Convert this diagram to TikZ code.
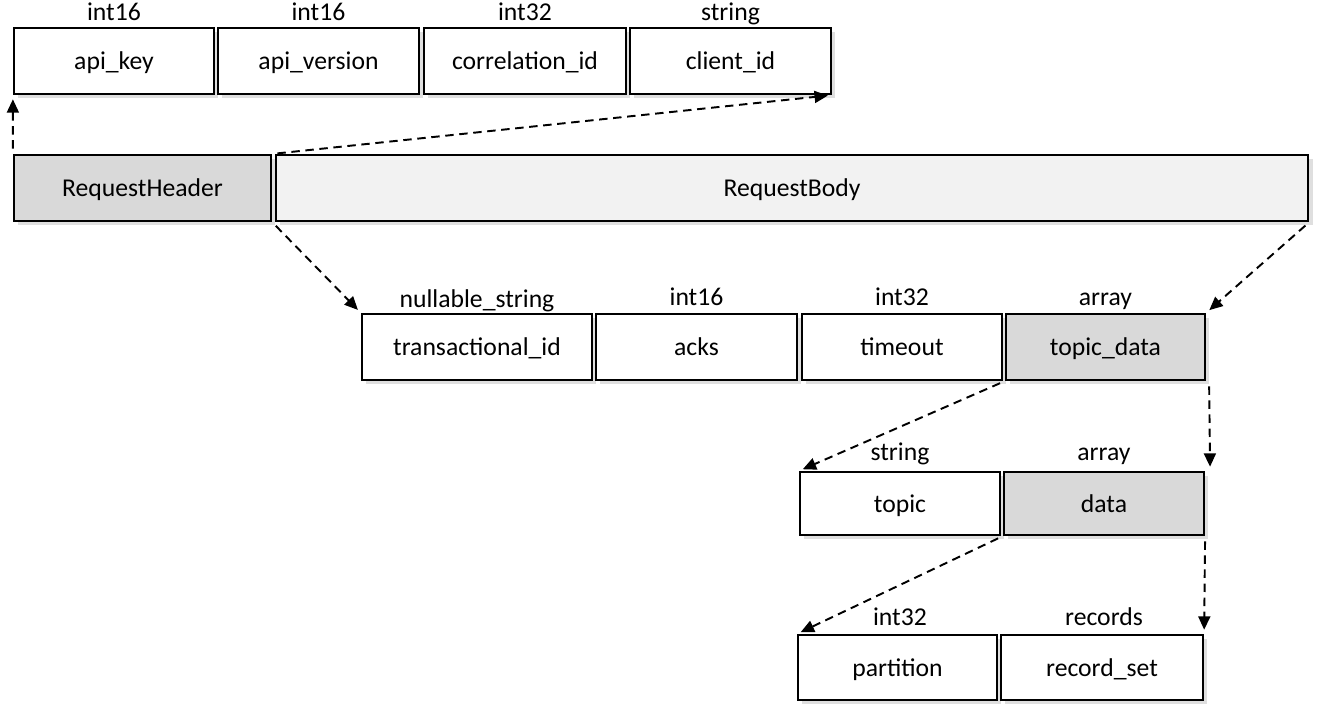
\documentclass[tikz,border=0pt]{standalone}
\usepackage{fontspec}
\setmainfont{Carlito}
\usetikzlibrary{arrows.meta,shadows}
\definecolor{hdrgray}{RGB}{217,217,217}
\definecolor{bodygray}{RGB}{242,242,242}
\tikzset{
  field/.style = {rectangle, draw=black, fill=white, line width=0.6pt,
    inner sep=0pt, align=center, minimum height=0.66cm,
    text height=0.72em, text depth=0.22em,
    font=\fontsize{7.3}{8.7}\selectfont,
    drop shadow={opacity=0.25, shadow xshift=1.2pt, shadow yshift=-1.2pt}},% champ blanc
  field_g/.style = {field, fill=hdrgray},% champ gris
  field_l/.style = {field, fill=bodygray},% champ gris clair
  ftype/.style = {inner sep=0pt, text height=0.72em, text depth=0.22em,
    font=\fontsize{7.3}{8.7}\selectfont},% type du champ
  link/.style = {-{Triangle[length=3.8pt,width=3.4pt]}, line width=0.55pt,
    dash pattern=on 2.4pt off 1.6pt, shorten <=1.5pt, shorten >=1.2pt},
}
\begin{document}
\begin{tikzpicture}[x=0.01cm,y=-0.01cm]
  \useasboundingbox (0,0) rectangle (1326,705);

  % header fields
  \node[field, minimum width=2cm] (apikey) at (114,61) {api\_key};
  \node[field, minimum width=2.01cm] (apiver) at (318.5,61) {api\_version};
  \node[field, minimum width=2.02cm] (corrid) at (525,61) {correlation\_id};
  \node[field, minimum width=2.01cm] (clientid) at (730.5,61) {client\_id};
  \node[ftype] (t_apikey) at (114,12) {int16};
  \node[ftype] (t_apiver) at (318.5,12) {int16};
  \node[ftype] (t_corrid) at (525,12) {int32};
  \node[ftype] (t_clientid) at (730.5,12) {string};

  % request
  \node[field_g, minimum width=2.57cm] (hdr) at (142.5,188) {RequestHeader};
  \node[field_l, minimum width=10.32cm] (body) at (792,188) {RequestBody};

  % body fields
  \node[field, minimum width=2.3cm] (txid) at (477,347) {transactional\_id};
  \node[field, minimum width=2.01cm] (acks) at (696.5,347) {acks};
  \node[field, minimum width=2cm] (timeout) at (902,347) {timeout};
  \node[field_g, minimum width=1.99cm] (tdata) at (1105.5,347) {topic\_data};
  \node[ftype] (t_txid) at (477,299) {nullable\_string};
  \node[ftype] (t_acks) at (696.5,297) {int16};
  \node[ftype] (t_timeout) at (902,297) {int32};
  \node[ftype] (t_tdata) at (1105.5,297) {array};

  % topic_data
  \node[field, minimum width=2cm, minimum height=0.63cm] (topic) at (900,503.5) {topic};
  \node[field_g, minimum width=2cm, minimum height=0.63cm] (data) at (1104,503.5) {data};
  \node[ftype] (t_topic) at (900,452) {string};
  \node[ftype] (t_data) at (1104,452) {array};

  % data
  \node[field, minimum width=1.99cm, minimum height=0.65cm] (part) at (897.5,667.5) {partition};
  \node[field, minimum width=2.02cm, minimum height=0.65cm] (rset) at (1102,667.5) {record\_set};
  \node[ftype] (t_part) at (900,617) {int32};
  \node[ftype] (t_rset) at (1104,617) {records};

  % links
  \path[link] (hdr.north west) edge (apikey.south west);
  \path[link] (hdr.north east) edge (clientid.south east);
  \path[link] (hdr.south east) edge (txid.north west);
  \path[link] (body.south east) edge (tdata.north east);
  \path[link] (tdata.south west) edge (topic.north west);
  \path[link] ([xshift=0.03cm]tdata.south east) edge ([xshift=0.05cm]data.north east);
  \path[link] (data.south west) edge (part.north west);
  \path[link] (data.south east) edge (rset.north east);
\end{tikzpicture}
\end{document}
